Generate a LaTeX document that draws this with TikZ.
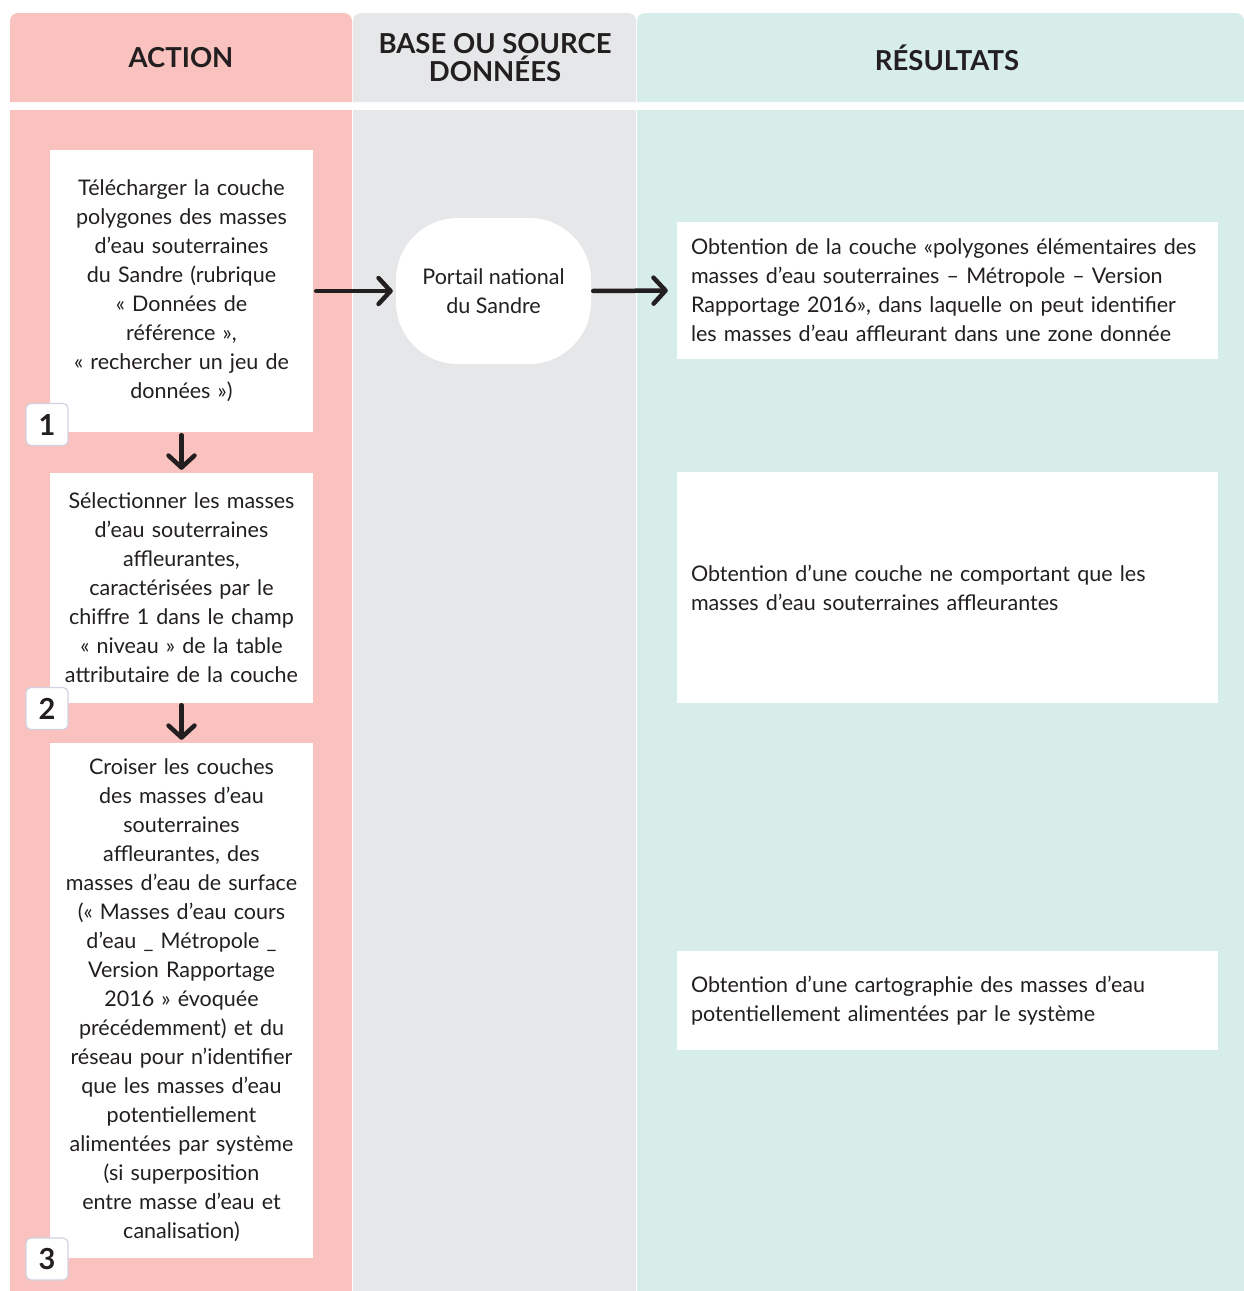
\documentclass[tikz,border=0pt]{standalone}
\usepackage{fontspec}
\setmainfont{Lato}
\usetikzlibrary{arrows.meta}
\definecolor{cpink}{HTML}{FAC2BE}
\definecolor{cgray}{HTML}{E6E7E9}
\definecolor{cteal}{HTML}{D7EDEA}
\definecolor{ctext}{HTML}{231F20}
\definecolor{cbadge}{HTML}{D2D2E2}
\tikzset{
  hdr/.style={font=\fontsize{27.5}{28}\selectfont\bfseries, text=ctext, align=center},
  actbox/.style={fill=white, minimum width=263, text width=258, align=center, inner sep=0,
     font=\fontsize{21.5}{29}\selectfont, text=ctext},
  resbox/.style={fill=white, minimum width=541, text width=513, align=left, inner sep=0,
     font=\fontsize{21.5}{29}\selectfont, text=ctext},
  badge/.style={fill=white, draw=cbadge, line width=1.2, rounded corners=5, minimum width=42,
     minimum height=42, inner sep=0, font=\fontsize{29}{29}\selectfont\bfseries, text=ctext},
  arr/.style={draw=ctext, line width=4.5, line cap=round, -{Straight Barb[length=12, width=26, line cap=round, line join=round]}},
}
\begin{document}
\begin{tikzpicture}[x=1pt,y=-1pt]
\useasboundingbox (0,0) rectangle (1244,1291);
\fill[white] (0,0) rectangle (1244,1291);
% headers
\fill[cpink] (10,102) [rounded corners=8] -- (10,13) -- (352,13) [sharp corners] -- (352,102) -- cycle;
\fill[cgray] (353,102) [rounded corners=8] -- (353,13) -- (636,13) [sharp corners] -- (636,102) -- cycle;
\fill[cteal] (637,102) [rounded corners=8] -- (637,13) -- (1244,13) [sharp corners] -- (1244,102) -- cycle;
\node[hdr] (h1) at (181,57.5) {ACTION};
\node[hdr] (h2) at (495,57.5) {BASE OU SOURCE\\DONNÉES};
\node[hdr] (h3) at (947,57.5) {RÉSULTATS};
% bodies
\fill[cpink] (10,110) rectangle (352,1291);
\fill[cgray] (353,110) rectangle (636,1291);
\fill[cteal] (637,110) rectangle (1244,1291);
% action boxes
\node[actbox, minimum height=282] (b1) at (181.5,291) {Télécharger la couche\\polygones des masses\\d’eau souterraines\\du Sandre (rubrique\\« Données de\\référence »,\\« rechercher un jeu de\\données »)};
\node[actbox, minimum height=230] (b2) at (181.5,588) {Sélectionner les masses\\d’eau souterraines\\affleurantes,\\caractérisées par le\\chiffre 1 dans le champ\\« niveau » de la table\\attributaire de la couche};
\node[actbox, minimum height=515] (b3) at (181.5,1000.5) {Croiser les couches\\des masses d’eau\\souterraines\\affleurantes, des\\masses d’eau de surface\\(« Masses d’eau cours\\d’eau \_ Métropole \_\\Version Rapportage\\2016 » évoquée\\précédemment) et du\\réseau pour n’identifier\\que les masses d’eau\\potentiellement\\alimentées par système\\(si superposition\\entre masse d’eau et\\canalisation)};
\node[badge] (n1) at (47,424.5) {1};
\node[badge] (n2) at (47,708.5) {2};
\node[badge] (n3) at (47,1259) {3};
% portal
\node[fill=white, rounded corners=62, minimum width=195, minimum height=146, inner sep=0,
   font=\fontsize{21.5}{29}\selectfont, text=ctext, align=center] (portal) at (493.5,291) {Portail national\\du Sandre};
% results
\node[resbox, minimum height=137] (r1) at (947.5,290.5) {Obtention de la couche «polygones élémentaires des\\masses d’eau souterraines – Métropole – Version\\Rapportage 2016», dans laquelle on peut identifier\\les masses d’eau affleurant dans une zone donnée};
\node[resbox, minimum height=231] (r2) at (947.5,587.5) {Obtention d’une couche ne comportant que les\\masses d’eau souterraines affleurantes};
\node[resbox, minimum height=99] (r3) at (947.5,1000.5) {Obtention d’une cartographie des masses d’eau\\potentiellement alimentées par le système};
% arrows
\draw[arr, shorten <=3, shorten >=3] (b1.south) -- (b2.north);
\draw[arr, shorten <=2, shorten >=3] (b2.south) -- (b3.north);
\draw[arr, shorten <=3, shorten >=3] (b1.east) -- (portal.west);
\draw[arr, shorten <=2, shorten >=9] (portal.east) -- (r1.west);
\end{tikzpicture}
\end{document}
